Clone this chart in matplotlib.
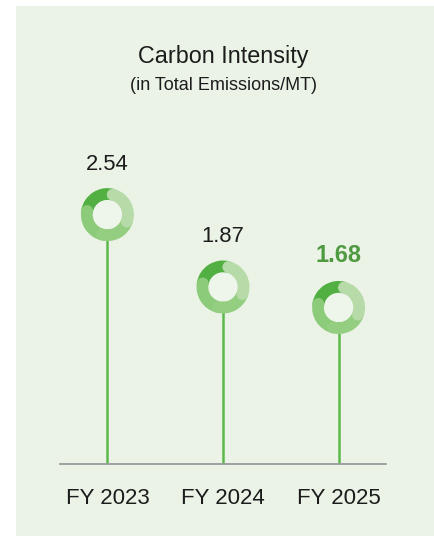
import numpy as np
import matplotlib
matplotlib.use("Agg")
import matplotlib.pyplot as plt
from matplotlib import patches, transforms

categories = ["FY 2023", "FY 2024", "FY 2025"]
values = [2.54, 1.87, 1.68]
value_labels = ["2.54", "1.87", "1.68"]
title = "Carbon Intensity"
subtitle = "(in Total Emissions/MT)"

W, H, DPI = 434, 536, 100
BG = "#ebf3e7"
STEM = "#5cb94a"
DARK = "#52b043"
MED = "#8ccb79"
MED2 = "#93ce81"
LIGHT = "#b7dba8"
TEXT = "#1c1c1c"
HILITE = "#4f9a40"
FONT = ["Liberation Sans", "DejaVu Sans"]

plt.rcParams["font.family"] = FONT

fig = plt.figure(figsize=(W / DPI, H / DPI), dpi=DPI)
fig.patch.set_facecolor("white")
fig.add_artist(patches.Rectangle((16 / W, 0), 1 - 16 / W, (H - 6) / H,
                                 transform=fig.transFigure, facecolor=BG,
                                 edgecolor="none", zorder=0))

def fx(px):
    return px / W

def fy(py):
    return 1 - py / H

ax_left, ax_right, ax_bottom, ax_top = 60, 386, 464, 120
ax = fig.add_axes([fx(ax_left), fy(ax_bottom), (ax_right - ax_left) / W,
                   (ax_bottom - ax_top) / H])
ax.set_facecolor("none")
ax.set_xlim(-0.41, 2.41)
ax.set_ylim(0.231, 3.416)
for s in ["top", "right", "left"]:
    ax.spines[s].set_visible(False)
ax.spines["bottom"].set_color("#9a9a9a")
ax.spines["bottom"].set_linewidth(1.3)
ax.set_xticks([])
ax.set_yticks([])

x = np.arange(len(categories))
ax.vlines(x, 0.231, values, color=STEM, linewidth=1.8, zorder=2)

r_out = 0.265
ring_w = 0.118
r_mid = r_out - ring_w / 2

segments = [  # (theta1, theta2, color, caps) drawn in order
    (75, 170, DARK, []),
    (170, 255, MED, [170]),
    (-105, -20, MED2, [-105]),
    (-20, 75, LIGHT, [75, -20]),
]

for xi, v in zip(x, values):
    trans = fig.dpi_scale_trans + transforms.ScaledTranslation(xi, v, ax.transData)
    hole = patches.Circle((0, 0), r_out - ring_w, transform=trans,
                          facecolor="#eef5eb", edgecolor="none", zorder=3)
    ax.add_artist(hole)
    z = 4
    for t1, t2, col, caps in segments:
        w = patches.Wedge((0, 0), r_out, t1, t2, width=ring_w, transform=trans,
                          facecolor=col, edgecolor="none", zorder=z)
        ax.add_artist(w)
        for a in caps:
            c = patches.Circle((r_mid * np.cos(np.radians(a)), r_mid * np.sin(np.radians(a))),
                               ring_w / 2, transform=trans, facecolor=col,
                               edgecolor="none", zorder=z)
            ax.add_artist(c)
        z += 0.1

for i, (xi, v, lab) in enumerate(zip(x, values, value_labels)):
    last = i == len(values) - 1
    ax.annotate(lab, xy=(xi, v), xytext=(0, 45 * 72 / DPI), textcoords="offset points",
                ha="center", va="baseline", fontsize=17 if last else 15.8,
                color=HILITE if last else TEXT,
                fontweight="bold" if last else "normal")
    ax.annotate(categories[i], xy=(xi, 0), xycoords=("data", "axes fraction"),
                xytext=(0, -40 * 72 / DPI), textcoords="offset points",
                ha="center", va="baseline", fontsize=16, color=TEXT)

fig.text(fx(223), fy(63), title, ha="center", va="baseline", fontsize=16.8,
         color=TEXT)
fig.text(fx(223), fy(90), subtitle, ha="center", va="baseline", fontsize=13,
         color=TEXT)

fig.savefig("out.png", dpi=DPI)
